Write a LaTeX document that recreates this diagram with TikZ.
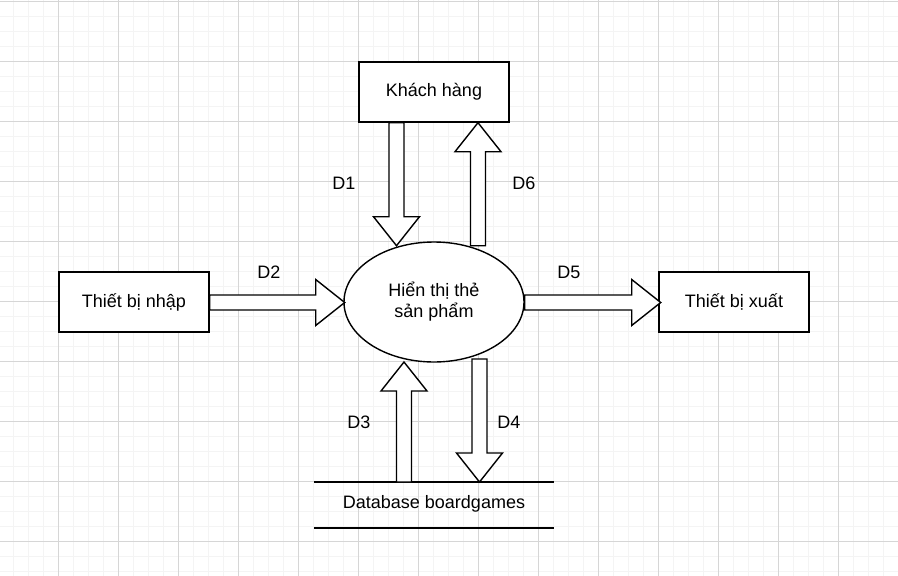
\documentclass[tikz,border=0pt]{standalone}
\usepackage{fontspec}
\setmainfont{Liberation Sans}
\usetikzlibrary{calc,shapes.geometric}
\definecolor{gmaj}{RGB}{214,214,214}
\definecolor{gmin}{RGB}{244,244,244}
\newcommand{\blockarr}[3]{%
  \begin{scope}[shift={#1}, rotate=#3]
    \draw[barrow] (0,-7.5) -- (#2-29,-7.5) -- (#2-29,-23) -- (#2,0) -- (#2-29,23) -- (#2-29,7.5) -- (0,7.5) -- cycle;
  \end{scope}}
\begin{document}
\begin{tikzpicture}[x=1pt,y=-1pt,
  ent/.style={draw=black, line width=1.4pt, fill=white, minimum width=150pt, minimum height=60pt, inner sep=0pt, font=\fontsize{18}{21}\selectfont},
  proc/.style={draw=black, line width=1.4pt, fill=white, ellipse, minimum width=180pt, minimum height=120pt, inner sep=0pt, align=center, font=\fontsize{18}{21}\selectfont},
  barrow/.style={draw=black, line width=1.4pt, fill=white, line join=miter},
  lbl/.style={inner sep=0pt, font=\fontsize{18}{21}\selectfont},
  store/.style={draw=black, line width=1.4pt}]
\useasboundingbox (0,0) rectangle (898,576);
\fill[white] (0,0) rectangle (898,576);
\begin{scope}
\clip (0,0) rectangle (898,576);
\foreach \x in {13.5,28.5,...,898} \draw[gmin, line width=1pt] (\x,0) -- (\x,576);
\foreach \y in {1,16,...,576} \draw[gmin, line width=1pt] (0,\y) -- (898,\y);
\foreach \x in {58.5,118.5,...,898} \draw[gmaj, line width=1pt] (\x,0) -- (\x,576);
\foreach \y in {1,61,...,576} \draw[gmaj, line width=1pt] (0,\y) -- (898,\y);
\end{scope}

\node[ent] (kh) at (434,92) {Khách hàng};
\node[ent] (tbn) at (134,302) {Thiết bị nhập};
\node[ent] (tbx) at (734,302) {Thiết bị xuất};
\node[proc] (ht) at (434,302) {Hiển thị thẻ\\sản phẩm};
\node[lbl] (db) at (434,504) {Database boardgames};
\coordinate (dbtl) at (314,482);
\coordinate (dbtr) at (554,482);
\coordinate (dbbl) at (314,528);
\coordinate (dbbr) at (554,528);
\draw[store] (dbtl) -- (dbtr);
\draw[store] (dbbl) -- (dbbr);

% D1: Khach hang -> process
\blockarr{($(kh.south)+(-37.5,0)$)}{123}{-90}
% D6: process -> Khach hang
\blockarr{($(kh.south)+(44,123)$)}{123}{90}
% D2: Thiet bi nhap -> process
\blockarr{($(tbn.east)+(0,0.5)$)}{135}{0}
% D5: process -> Thiet bi xuat
\blockarr{($(ht.east)+(0,0.5)$)}{136}{0}
% D3: database -> process
\blockarr{($(dbtl)+(90,0)$)}{120}{90}
% D4: process -> database
\blockarr{($(dbtl)+(165.5,-123)$)}{123}{-90}

\node[lbl] (l1) at (344,183) {D1};
\node[lbl] (l6) at (524,183) {D6};
\node[lbl] (l2) at (269,272) {D2};
\node[lbl] (l5) at (569,272) {D5};
\node[lbl] (l3) at (359,422) {D3};
\node[lbl] (l4) at (509,422) {D4};
\end{tikzpicture}
\end{document}
